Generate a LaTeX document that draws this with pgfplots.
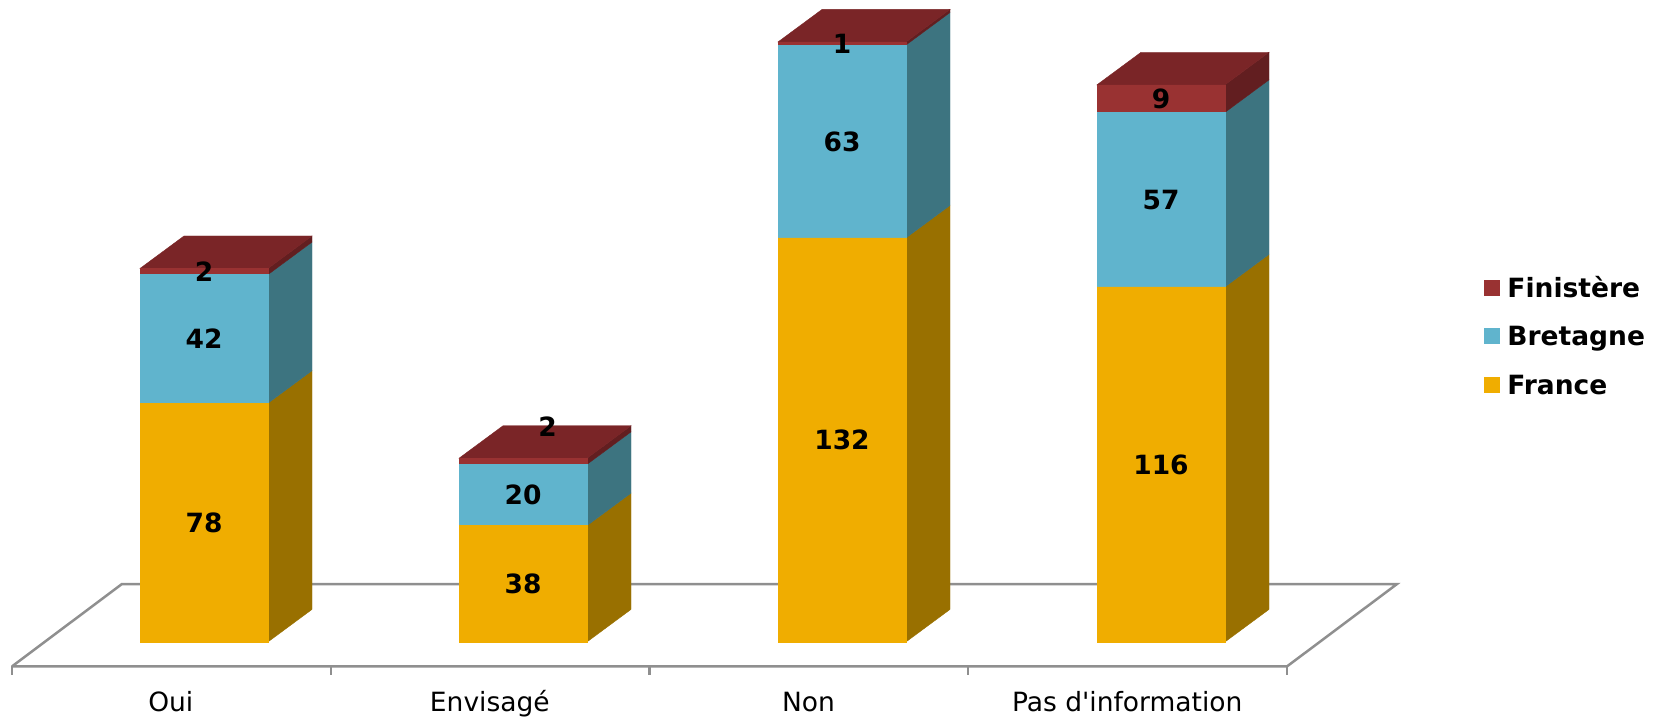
\documentclass[border=0pt]{standalone}
\usepackage{pgfplots}
\pgfplotsset{compat=1.18}
\usepackage{fontspec}
\setmainfont{DejaVu Sans}
\definecolor{frF}{HTML}{F0AD00}
\definecolor{frS}{HTML}{997000}
\definecolor{brF}{HTML}{60B4CD}
\definecolor{brS}{HTML}{3D7480}
\definecolor{fiF}{HTML}{993232}
\definecolor{fiS}{HTML}{621E20}
\definecolor{fiT}{HTML}{7A2527}
\definecolor{floorc}{HTML}{8F8F8F}
\newcommand{\chartfont}{\fontsize{13.25}{16}\selectfont}
\newcommand{\lgd}[1]{\rule{0pt}{9.6pt}\smash{#1}}
\begin{document}
\begin{tikzpicture}
\pgfplotsset{base/.style={width=827.5pt,height=358pt,scale only axis,
  xmin=-0.6395,xmax=4.5486,ymin=-24.27,ymax=209.64,clip=false}}
% ---- background: floor, ticks, category labels, side and top faces
\begin{axis}[base, axis line style={draw=none}, ytick=\empty,
  xtick={-0.104,0.896,1.895,2.894},
  xticklabels={Oui,Envisagé,Non,Pas d\textquotesingle information},
  major tick length=0pt,
  xticklabel style={anchor=base, inner sep=0pt, yshift=2.15pt, font=\chartfont}]
\path (rel axis cs:0,0) rectangle (rel axis cs:1,1);
\addplot[draw=floorc, line width=1.25pt] coordinates {(-0.602,-8.0) (3.395,-8.0) (3.739,18.85) (-0.258,18.85) (-0.602,-8.0)};
\pgfplotsinvokeforeach{-0.602,0.398,1.397,2.395,3.395}{
  \addplot[draw=floorc, line width=1.25pt] coordinates {(#1,-8.0) (#1,-10.7)};
}
\pgfplotsset{side/.style={fill=#1, draw=#1, line width=0.2pt}}
% Oui
\addplot[side=frS] coordinates {(0.2006,0) (0.3386,10.62) (0.3386,88.62) (0.2006,78)} -- cycle;
\addplot[side=brS] coordinates {(0.2006,78) (0.3386,88.62) (0.3386,130.62) (0.2006,120)} -- cycle;
\addplot[side=fiS] coordinates {(0.2006,120) (0.3386,130.62) (0.3386,132.62) (0.2006,122)} -- cycle;
\addplot[side=fiT] coordinates {(-0.2006,122) (-0.0626,132.62) (0.3386,132.62) (0.2006,122)} -- cycle;
% Envisage
\addplot[side=frS] coordinates {(1.2006,0) (1.3386,10.62) (1.3386,48.62) (1.2006,38)} -- cycle;
\addplot[side=brS] coordinates {(1.2006,38) (1.3386,48.62) (1.3386,68.62) (1.2006,58)} -- cycle;
\addplot[side=fiS] coordinates {(1.2006,58) (1.3386,68.62) (1.3386,70.62) (1.2006,60)} -- cycle;
\addplot[side=fiT] coordinates {(0.7994,60) (0.9374,70.62) (1.3386,70.62) (1.2006,60)} -- cycle;
% Non
\addplot[side=frS] coordinates {(2.2006,0) (2.3386,10.62) (2.3386,142.62) (2.2006,132)} -- cycle;
\addplot[side=brS] coordinates {(2.2006,132) (2.3386,142.62) (2.3386,205.62) (2.2006,195)} -- cycle;
\addplot[side=fiS] coordinates {(2.2006,195) (2.3386,205.62) (2.3386,206.62) (2.2006,196)} -- cycle;
\addplot[side=fiT] coordinates {(1.7994,196) (1.9374,206.62) (2.3386,206.62) (2.2006,196)} -- cycle;
% Pas d'information
\addplot[side=frS] coordinates {(3.2006,0) (3.3386,10.62) (3.3386,126.62) (3.2006,116)} -- cycle;
\addplot[side=brS] coordinates {(3.2006,116) (3.3386,126.62) (3.3386,183.62) (3.2006,173)} -- cycle;
\addplot[side=fiS] coordinates {(3.2006,173) (3.3386,183.62) (3.3386,192.62) (3.2006,182)} -- cycle;
\addplot[side=fiT] coordinates {(2.7994,182) (2.9374,192.62) (3.3386,192.62) (3.2006,182)} -- cycle;
\end{axis}
% ---- front faces (stacked bars) and legend
\begin{axis}[base, hide axis, ybar stacked, bar width=64pt,
  reverse legend,
  legend image code/.code={\fill[#1] (0pt,-2.8pt) rectangle (7.5pt,4.7pt);},
  legend style={draw=none, fill=none, inner sep=0pt, outer sep=0pt,
    at={(axis description cs:0.8967,0.6116)}, anchor=north west,
    font=\chartfont\bfseries, row sep=13.12pt,
    nodes={inner sep=0pt},
    /tikz/every odd column/.append style={column sep=4.0pt}},
  legend cell align=left]
\addplot[fill=frF, draw=frF, line width=0.2pt] coordinates {(0,78) (1,38) (2,132) (3,116)};
\addlegendentry{\lgd{France}}
\addplot[fill=brF, draw=brF, line width=0.2pt] coordinates {(0,42) (1,20) (2,63) (3,57)};
\addlegendentry{\lgd{Bretagne}}
\addplot[fill=fiF, draw=fiF, line width=0.2pt] coordinates {(0,2) (1,2) (2,1) (3,9)};
\addlegendentry{\lgd{Finistère}}
\end{axis}
% ---- data labels
\begin{axis}[base, hide axis]
\addplot[draw=none, mark=none, nodes near coords, point meta=explicit symbolic,
  every node near coord/.append style={anchor=center, inner sep=0pt, font=\chartfont\bfseries, text=black}]
  coordinates {(0,39)[78] (0,99)[42] (0,121)[2]
               (1,19)[38] (1,48)[20] (1.077,70.3)[2]
               (2,66)[132] (2,163.5)[63] (2,195.5)[1]
               (3,58)[116] (3,144.5)[57] (3,177.5)[9]};
\end{axis}
\end{tikzpicture}
\end{document}
